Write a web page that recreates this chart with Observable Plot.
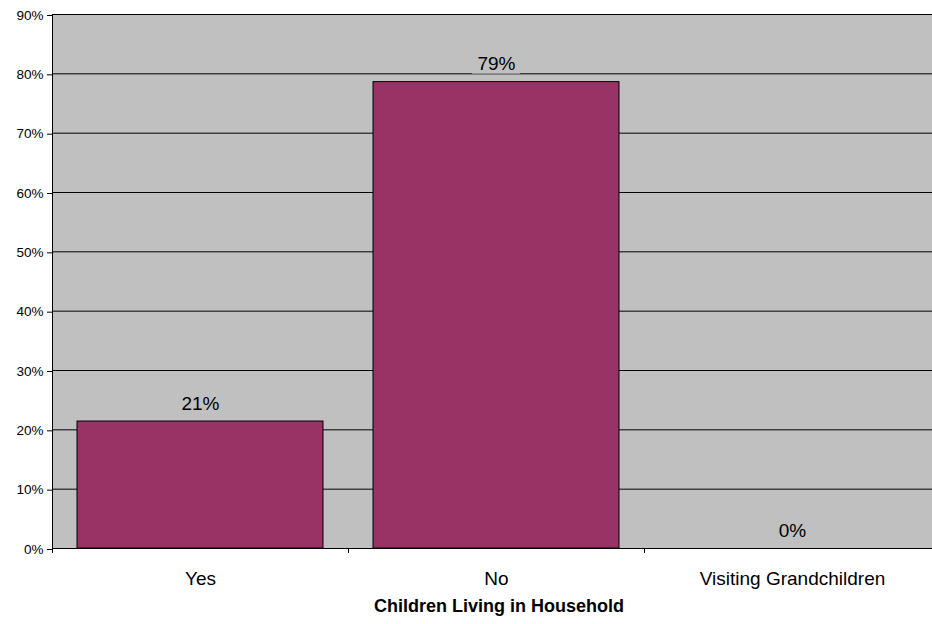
<!DOCTYPE html>
<html>
<head>
<meta charset="utf-8">
<script src="https://cdn.jsdelivr.net/npm/d3@7"></script>
<script src="https://cdn.jsdelivr.net/npm/@observablehq/plot@0.6"></script>
<style>
  html, body { margin: 0; padding: 0; background: #fff; }
</style>
</head>
<body>
<div id="chart"></div>
<script>
const categories = ["Yes", "No", "Visiting Grandchildren"];
const values = [21.4, 78.6, 0];
const valueLabels = ["21%", "79%", "0%"];
const yTicks = [0, 10, 20, 30, 40, 50, 60, 70, 80, 90];
const xTitle = "Children Living in Household";

const data = categories.map((c, i) => ({category: c, value: values[i], label: valueLabels[i]}));

const chart = Plot.plot({
  width: 932,
  height: 624,
  marginTop: 14,
  marginBottom: 76,
  marginLeft: 52,
  marginRight: -8,
  style: {fontFamily: "'Liberation Sans', Arial, sans-serif", background: "#fff", color: "#000"},
  x: {domain: categories, padding: 0, label: null},
  y: {domain: [0, 90], label: null},
  marks: [
    Plot.frame({fill: "#c0c0c0", stroke: null}),
    Plot.gridY(yTicks.slice(1), {stroke: "#000", strokeOpacity: 1}),
    Plot.barY(data.filter(d => d.value > 0), {
      x: "category", y: "value", insetLeft: 25, insetRight: 25,
      fill: "#993366", stroke: "#000", strokeWidth: 1
    }),
    Plot.barY(data, {
      x: "category", y1: "value", y2: "value",
      insetTop: -29, insetBottom: 8, insetLeft: 124, insetRight: 124,
      fill: "#c0c0c0"
    }),
    Plot.text(data, {
      x: "category", y: "value", text: "label",
      lineAnchor: "bottom", dy: -12, fontSize: 19, fill: "#000"
    }),
    Plot.ruleY([0], {stroke: "#000"}),
    Plot.tickX([categories[0]], {x: d => d, dx: -148, stroke: "#000"}),
    Plot.tickX(categories, {x: d => d, dx: -148, insetTop: 534, insetBottom: -5, stroke: "#000"}),
    Plot.axisY({ticks: yTicks, tickFormat: d => d + "%", tickSize: 5, tickPadding: 4, fontSize: 13.5, dy: 1, label: null}),
    Plot.axisX({tickSize: 0, tickPadding: 23, fontSize: 19, label: null}),
    Plot.text([xTitle], {text: d => d, frameAnchor: "bottom", dy: 63, dx: 2.5, fontSize: 18, fontWeight: "bold", fill: "#000"})
  ]
});

document.getElementById("chart").appendChild(chart);
</script>
</body>
</html>
